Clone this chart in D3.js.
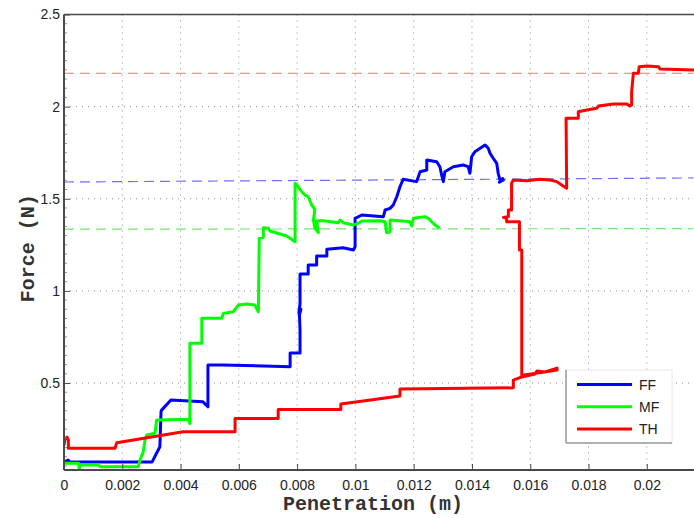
<!DOCTYPE html>
<html>
<head>
<meta charset="utf-8">
<script src="https://cdn.jsdelivr.net/npm/d3@7"></script>
<style>
  html, body { margin: 0; padding: 0; background: #fff; }
  svg { display: block; }
</style>
</head>
<body>
<div id="chart"></div>
<script>
// ---------------- data ----------------
const xTicks = [0, 0.002, 0.004, 0.006, 0.008, 0.01, 0.012, 0.014, 0.016, 0.018, 0.02];
const xTickLabels = ["0", "0.002", "0.004", "0.006", "0.008", "0.01", "0.012", "0.014", "0.016", "0.018", "0.02"];
const yTicks = [0.5, 1, 1.5, 2, 2.5];
const yTickLabels = ["0.5", "1", "1.5", "2", "2.5"];
const seriesNames = ["FF", "MF", "TH"];

// FF (blue): penetration (m), force (N)
const ffX = [0, 0.00014, 0.0002, 0.00302, 0.00329, 0.00333, 0.00335, 0.00367, 0.00477, 0.00494, 0.00494, 0.00546, 0.00776, 0.00776, 0.0081, 0.0081, 0.00808, 0.00813, 0.00806, 0.0081, 0.0081, 0.00838, 0.00838, 0.00867, 0.00867, 0.00902, 0.00902, 0.00958, 0.00993, 0.00999, 0.00999, 0.01022, 0.01096, 0.01102, 0.01119, 0.0113, 0.01142, 0.01153, 0.01164, 0.0121, 0.01222, 0.01245, 0.01245, 0.01279, 0.0129, 0.01296, 0.01302, 0.01307, 0.01336, 0.0137, 0.01387, 0.01393, 0.01399, 0.0141, 0.01428, 0.01445, 0.01456, 0.01462, 0.01473, 0.01485, 0.0149, 0.01496, 0.01508, 0.01494, 0.01505];
const ffY = [0.071, 0.082, 0.071, 0.071, 0.154, 0.344, 0.353, 0.408, 0.398, 0.371, 0.598, 0.598, 0.589, 0.663, 0.663, 0.788, 0.87, 0.9, 0.88, 0.93, 1.092, 1.092, 1.140, 1.140, 1.189, 1.189, 1.226, 1.234, 1.222, 1.240, 1.394, 1.412, 1.403, 1.439, 1.448, 1.466, 1.511, 1.565, 1.606, 1.593, 1.647, 1.656, 1.710, 1.701, 1.674, 1.629, 1.593, 1.647, 1.674, 1.683, 1.674, 1.638, 1.728, 1.755, 1.774, 1.792, 1.774, 1.747, 1.720, 1.692, 1.638, 1.602, 1.602, 1.59, 1.61];

// MF (green)
const mfX = [0, 0.0005, 0.00052, 0.00055, 0.00118, 0.00124, 0.00255, 0.00261, 0.00272, 0.00278, 0.00284, 0.00312, 0.00318, 0.00427, 0.00432, 0.00432, 0.00473, 0.00473, 0.00541, 0.00547, 0.00581, 0.00598, 0.00627, 0.00655, 0.00667, 0.0067, 0.00684, 0.00684, 0.00701, 0.00707, 0.00764, 0.00781, 0.00793, 0.00793, 0.00804, 0.00816, 0.00827, 0.00838, 0.0085, 0.00861, 0.00856, 0.00861, 0.00873, 0.00867, 0.0089, 0.00941, 0.00947, 0.00958, 0.00993, 0.0101, 0.01022, 0.01084, 0.01102, 0.01107, 0.01119, 0.01119, 0.01187, 0.01193, 0.01199, 0.01239, 0.0125, 0.01262, 0.01273, 0.01285];
const mfY = [0.064, 0.064, 0.03, 0.055, 0.055, 0.046, 0.046, 0.082, 0.127, 0.191, 0.218, 0.227, 0.299, 0.303, 0.281, 0.716, 0.716, 0.851, 0.851, 0.878, 0.887, 0.923, 0.929, 0.923, 0.887, 1.285, 1.291, 1.343, 1.340, 1.325, 1.298, 1.280, 1.267, 1.584, 1.565, 1.538, 1.520, 1.511, 1.466, 1.443, 1.385, 1.340, 1.316, 1.381, 1.381, 1.370, 1.385, 1.370, 1.358, 1.367, 1.379, 1.381, 1.375, 1.316, 1.321, 1.385, 1.375, 1.352, 1.394, 1.403, 1.394, 1.375, 1.358, 1.345];

// TH (red)
const thX = [0, 0.00003, 0.0001, 0.00015, 0.00015, 0.00175, 0.00181, 0.00409, 0.00587, 0.00587, 0.00735, 0.00735, 0.0095, 0.0095, 0.01153, 0.01153, 0.01542, 0.01542, 0.01571, 0.01616, 0.01623, 0.01651, 0.01692, 0.01692, 0.01579, 0.01571, 0.01571, 0.01563, 0.01563, 0.01519, 0.01519, 0.01508, 0.01525, 0.01525, 0.01536, 0.01536, 0.01542, 0.01588, 0.01633, 0.01668, 0.01691, 0.01713, 0.01725, 0.01723, 0.01765, 0.01765, 0.01794, 0.01828, 0.01834, 0.01885, 0.01931, 0.01942, 0.01948, 0.01948, 0.01954, 0.01971, 0.01974, 0.02, 0.0204, 0.02045, 0.0216];
const thY = [0.163, 0.191, 0.207, 0.191, 0.146, 0.146, 0.176, 0.236, 0.236, 0.308, 0.308, 0.357, 0.357, 0.386, 0.429, 0.467, 0.474, 0.516, 0.533, 0.549, 0.565, 0.560, 0.581, 0.570, 0.543, 0.538, 1.222, 1.222, 1.375, 1.375, 1.394, 1.399, 1.403, 1.439, 1.439, 1.584, 1.602, 1.598, 1.606, 1.602, 1.593, 1.569, 1.557, 1.937, 1.937, 1.972, 1.982, 1.991, 2.003, 2.014, 2.014, 2.003, 2.009, 2.081, 2.181, 2.181, 2.217, 2.220, 2.217, 2.204, 2.199];

// reference (dashed) lines: endpoints
const refX = [0, 0.0216];
const refFF = [1.591, 1.613];
const refMF = [1.335, 1.338];
const refTH = [2.18, 2.18];

// ---------------- drawing ----------------
const W = 694, H = 518;
const L = 64, R = 694, T = 14.5, B = 470;
const colors = { FF: "#0000ff", MF: "#00ff00", TH: "#ff0000" };
const refColors = { FF: "#6f6fff", MF: "#6fe66f", TH: "#ff8f8f" };

const svg = d3.select("#chart").append("svg").attr("width", W).attr("height", H);

const x = d3.scaleLinear().domain([0, 0.02162]).range([L, R]);
const y = d3.scaleLinear().domain([0.028, 2.5]).range([B, T]);

svg.append("defs").append("clipPath").attr("id", "clip")
  .append("rect").attr("x", L).attr("y", T).attr("width", R - L).attr("height", B - T);

// grid
const grid = svg.append("g");
grid.selectAll("line.vx").data(xTicks.slice(1)).enter().append("line")
  .attr("x1", d => x(d)).attr("x2", d => x(d)).attr("y1", T).attr("y2", B)
  .attr("stroke", "#8a8a8a").attr("stroke-width", 1).attr("stroke-dasharray", "1,5");
grid.selectAll("line.hy").data(yTicks).enter().append("line")
  .attr("x1", L).attr("x2", R).attr("y1", d => y(d)).attr("y2", d => y(d))
  .attr("stroke", "#8a8a8a").attr("stroke-width", 1).attr("stroke-dasharray", "1,5");

// reference dashed lines
const plot = svg.append("g").attr("clip-path", "url(#clip)");
[["TH", refTH], ["FF", refFF], ["MF", refMF]].forEach(([k, arr]) => {
  plot.append("line")
    .attr("x1", x(refX[0])).attr("x2", x(refX[1]))
    .attr("y1", y(arr[0])).attr("y2", y(arr[1]))
    .attr("stroke", refColors[k]).attr("stroke-width", 1.2)
    .attr("stroke-dasharray", "10,6");
});

// series lines
const line = d3.line().x(d => x(d[0])).y(d => y(d[1]));
const series = [
  ["FF", d3.zip(ffX, ffY)],
  ["MF", d3.zip(mfX, mfY)],
  ["TH", d3.zip(thX, thY)]
];
series.forEach(([k, pts]) => {
  plot.append("path").datum(pts).attr("d", line)
    .attr("fill", "none").attr("stroke", colors[k]).attr("stroke-width", 3)
    .attr("stroke-linejoin", "round").attr("stroke-linecap", "round");
});

// axes
const axisColor = "#4a4a4a";
const xAxis = d3.axisBottom(x).tickValues(xTicks).tickFormat((d, i) => xTickLabels[i])
  .tickSizeInner(-6).tickSizeOuter(0).tickPadding(10);
const gx = svg.append("g").attr("transform", `translate(0,${B})`).call(xAxis);
gx.select(".domain").remove();
gx.selectAll(".tick line").attr("stroke", axisColor).attr("stroke-width", 1);
gx.selectAll(".tick text").attr("font-family", "Liberation Sans, Arial, sans-serif")
  .attr("font-size", 14).attr("fill", "#222");

const yAxis = d3.axisLeft(y).tickValues(yTicks).tickFormat((d, i) => yTickLabels[i])
  .tickSizeInner(-6).tickSizeOuter(0).tickPadding(4);
const gy = svg.append("g").attr("transform", `translate(${L},0)`).call(yAxis);
gy.select(".domain").remove();
gy.selectAll(".tick line").attr("stroke", axisColor).attr("stroke-width", 1);
gy.selectAll(".tick text").attr("font-family", "Liberation Sans, Arial, sans-serif")
  .attr("font-size", 14).attr("fill", "#222");

// minor y ticks
const minorY = d3.range(0.05, 2.5, 0.05).filter(v => Math.abs(v / 0.5 - Math.round(v / 0.5)) > 1e-6);
svg.append("g").selectAll("line").data(minorY).enter().append("line")
  .attr("x1", L).attr("x2", L + 3).attr("y1", d => y(d)).attr("y2", d => y(d))
  .attr("stroke", "#777").attr("stroke-width", 0.8);

// frame lines
svg.append("line").attr("x1", L).attr("x2", R).attr("y1", B).attr("y2", B)
  .attr("stroke", axisColor).attr("stroke-width", 2);
svg.append("line").attr("x1", L).attr("x2", L).attr("y1", T).attr("y2", B)
  .attr("stroke", axisColor).attr("stroke-width", 2);
svg.append("line").attr("x1", L).attr("x2", R).attr("y1", T).attr("y2", T)
  .attr("stroke", axisColor).attr("stroke-width", 1.5);

// axis titles
svg.append("text").attr("x", 373).attr("y", 510).attr("text-anchor", "middle")
  .attr("font-family", "Liberation Mono, Courier New, monospace").attr("font-weight", "bold")
  .attr("font-size", 20).attr("fill", "#333").text("Penetration (m)");
svg.append("text").attr("transform", `translate(34,${(T + B) / 2 + 6}) rotate(-90)`)
  .attr("text-anchor", "middle")
  .attr("font-family", "Liberation Mono, Courier New, monospace").attr("font-weight", "bold")
  .attr("font-size", 20).attr("fill", "#333").text("Force (N)");

// legend
const lg = svg.append("g");
const lx0 = 566, ly0 = 370, lw = 106, lh = 73;
lg.append("rect").attr("x", lx0).attr("y", ly0).attr("width", lw).attr("height", lh)
  .attr("fill", "#fff").attr("stroke", "#e8e8e8").attr("stroke-width", 1);
lg.append("line").attr("x1", lx0).attr("x2", lx0).attr("y1", ly0).attr("y2", ly0 + lh)
  .attr("stroke", "#9a9a9a").attr("stroke-width", 1.5);
lg.append("line").attr("x1", lx0).attr("x2", lx0 + lw).attr("y1", ly0 + lh).attr("y2", ly0 + lh)
  .attr("stroke", "#9a9a9a").attr("stroke-width", 1.5);
seriesNames.forEach((n, i) => {
  const yy = ly0 + 14.5 + i * 22.3;
  lg.append("line").attr("x1", lx0 + 11).attr("x2", lx0 + 66).attr("y1", yy).attr("y2", yy)
    .attr("stroke", colors[n]).attr("stroke-width", 3);
  lg.append("text").attr("x", lx0 + 73).attr("y", yy + 5)
    .attr("font-family", "Liberation Sans, Arial, sans-serif").attr("font-size", 14)
    .attr("fill", "#222").text(n);
});
</script>
</body>
</html>
